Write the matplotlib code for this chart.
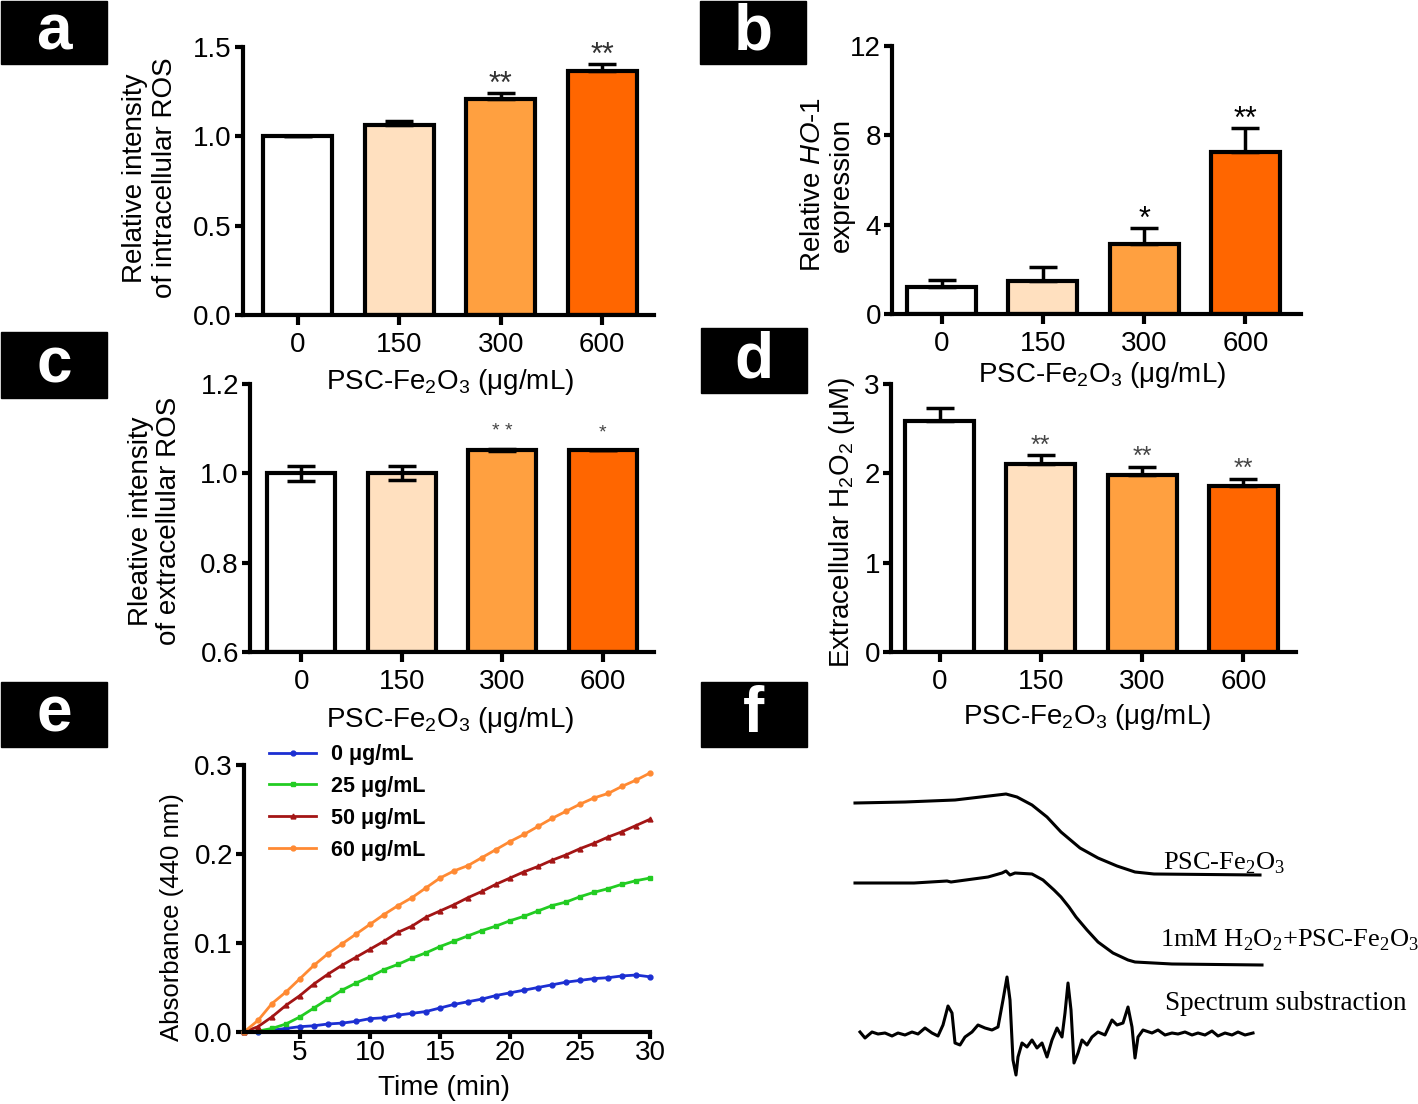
import numpy as np
import matplotlib
matplotlib.use("Agg")
from matplotlib import pyplot as plt
from matplotlib.patches import Rectangle

plt.rcParams['font.family'] = ['Liberation Sans', 'DejaVu Sans']
plt.rcParams['mathtext.fontset'] = 'custom'
plt.rcParams['mathtext.rm'] = 'Liberation Sans'
plt.rcParams['mathtext.it'] = 'Liberation Sans:italic'

W, H = 1418, 1104

# ---- data ----
doses = ['0', '150', '300', '600']
bar_colors = ['#FFFFFF', '#FFE0BF', '#FFA040', '#FF6600']

ros_in = [1.0, 1.066, 1.207, 1.366]
ros_in_err = [0.0, 0.02, 0.037, 0.04]
ros_in_sig = ['', '', '**', '**']

ho1 = [1.2, 1.48, 3.13, 7.26]
ho1_err = [0.32, 0.62, 0.72, 1.07]
ho1_sig = ['', '', '*', '**']

ros_ex = [1.0, 1.0, 1.052, 1.052]
ros_ex_err = [0.017, 0.016, 0.003, 0.0]
ros_ex_sig = ['', '', '* *', '*']

h2o2 = [2.59, 2.11, 1.98, 1.86]
h2o2_err = [0.145, 0.09, 0.09, 0.08]
h2o2_sig = ['', '**', '**', '**']

time_min = list(range(1, 31))
abs_0 = [0.0, 0.0, 0.002, 0.004, 0.006, 0.007, 0.009, 0.010, 0.012, 0.015,
         0.016, 0.019, 0.021, 0.023, 0.027, 0.031, 0.034, 0.037, 0.041, 0.044,
         0.047, 0.050, 0.053, 0.056, 0.058, 0.060, 0.061, 0.063, 0.064, 0.062]
abs_25 = [0.0, 0.001, 0.004, 0.009, 0.017, 0.027, 0.037, 0.047, 0.055, 0.062,
          0.070, 0.076, 0.083, 0.089, 0.096, 0.102, 0.108, 0.114, 0.119, 0.125,
          0.130, 0.136, 0.142, 0.146, 0.152, 0.157, 0.161, 0.166, 0.170, 0.173]
abs_50 = [0.0, 0.006, 0.017, 0.030, 0.041, 0.054, 0.065, 0.075, 0.084, 0.093,
          0.102, 0.112, 0.119, 0.129, 0.136, 0.143, 0.151, 0.158, 0.166, 0.173,
          0.180, 0.186, 0.193, 0.199, 0.206, 0.212, 0.219, 0.225, 0.232, 0.239]
abs_60 = [0.0, 0.013, 0.032, 0.045, 0.060, 0.075, 0.088, 0.099, 0.110, 0.121,
          0.132, 0.142, 0.151, 0.162, 0.173, 0.181, 0.187, 0.196, 0.205, 0.214,
          0.222, 0.231, 0.240, 0.248, 0.256, 0.263, 0.268, 0.276, 0.283, 0.291]
conc_labels = ['0 μg/mL', '25 μg/mL', '50 μg/mL', '60 μg/mL']
conc_colors = ['#1C2FD2', '#22CC22', '#A31515', '#FF8A33']
conc_markers = ['o', 's', '^', 'o']

# EPR spectra (arbitrary field / intensity units)
epr_field_1 = [0, 50, 100, 151, 162, 177, 192, 206, 225, 243, 262, 280, 299, 405]
epr_sig_1 = [287, 288, 290, 296, 293, 285, 273, 258, 242, 232, 224, 218, 216, 215]
epr_field_2 = [0, 59, 92, 96, 133, 147, 151, 155, 160, 177, 188, 199, 206, 214,
               221, 232, 243, 258, 273, 280, 317, 407]
epr_sig_2 = [207, 207, 209, 208, 213, 217, 219, 215, 217, 216, 210, 200, 193, 183,
             173, 160, 148, 137, 130, 128, 126, 125]
epr_field_3 = [5, 10, 17, 23, 30, 37, 43, 50, 57, 63, 70, 77, 83, 88, 93, 97, 100,
               105, 110, 117, 123, 130, 137, 143, 148, 152, 155, 158, 161, 163, 167,
               172, 177, 182, 187, 192, 197, 202, 207, 210, 213, 216, 219, 223, 227,
               232, 237, 243, 250, 257, 262, 268, 273, 277, 280, 283, 288, 297, 303,
               310, 317, 323, 330, 337, 343, 350, 357, 363, 370, 377, 383, 390, 398]
epr_sig_3 = [58, 52, 58, 56, 57, 54, 57, 55, 58, 56, 62, 57, 54, 65, 84, 77, 47,
             45, 53, 58, 65, 62, 60, 63, 90, 113, 90, 30, 15, 33, 47,
             43, 50, 42, 47, 33, 50, 62, 53, 77, 107, 80, 27, 37, 50,
             45, 53, 58, 55, 70, 65, 67, 83, 63, 32, 53, 60, 57, 60,
             55, 57, 56, 58, 55, 57, 55, 59, 54, 57, 55, 58, 55, 57]

fig = plt.figure(figsize=(W / 100, H / 100), dpi=100)

TICK_FS = 20
LAB_FS = 20


def px_axes(l, t, r, b):
    return fig.add_axes([l / W, 1 - b / H, (r - l) / W, (b - t) / H])


def panel_letter(letter, l, t, r, b):
    fig.patches.append(Rectangle((l / W, 1 - b / H), (r - l) / W, (b - t) / H,
                                 transform=fig.transFigure, color='black'))
    fig.text((l + r) / 2 / W, 1 - (t + b) / 2 / H, letter, color='white',
             fontsize=46, fontweight='bold', ha='center', va='center')


def style_axes(ax):
    for s in ['top', 'right']:
        ax.spines[s].set_visible(False)
    for s in ['left', 'bottom']:
        ax.spines[s].set_linewidth(3)
    ax.tick_params(axis='y', length=6, width=3, labelsize=TICK_FS, pad=2)
    ax.tick_params(axis='x', length=7, width=3, labelsize=TICK_FS, pad=5)


def bar_panel(ax, vals, errs, sig, ylim, yticks, ylabels, xlim, sym,
              star_size, star_color, star_off):
    x = np.arange(len(vals))
    ax.bar(x, np.array(vals) - ylim[0], bottom=ylim[0], width=0.68,
           color=bar_colors, edgecolor='black', linewidth=3, zorder=2)
    lower = errs if sym else [0] * len(errs)
    ax.errorbar(x, vals, yerr=[lower, errs], fmt='none', ecolor='black',
                elinewidth=2.5, capsize=10, capthick=2.5, zorder=3)
    for xi, v, e, s in zip(x, vals, errs, sig):
        if s:
            ax.annotate(s, (xi, v + e), xytext=(0, star_off),
                        textcoords='offset points', ha='center', va='baseline',
                        fontsize=star_size, color=star_color)
    ax.set_xlim(*xlim)
    ax.set_ylim(*ylim)
    ax.set_xticks(x, doses)
    ax.set_yticks(yticks, ylabels)
    style_axes(ax)


xlab = 'PSC-Fe$_\\mathregular{2}$O$_\\mathregular{3}$ (μg/mL)'

# a
ax_a = px_axes(243, 47, 654, 315)
bar_panel(ax_a, ros_in, ros_in_err, ros_in_sig, (0, 1.5), [0, 0.5, 1.0, 1.5],
          ['0.0', '0.5', '1.0', '1.5'], (-0.54, 3.51), False, 22, '#333333', 0)
fig.text(150 / W, 1 - 178 / H, 'Relative intensity\nof intracellular ROS',
         rotation=90, ha='center', va='center', fontsize=LAB_FS, linespacing=1.15)
fig.text(450 / W, 1 - 382 / H, xlab, ha='center', va='center', fontsize=LAB_FS)

# b
ax_b = px_axes(892, 46, 1301, 314)
bar_panel(ax_b, ho1, ho1_err, ho1_sig, (0, 12), [0, 4, 8, 12],
          ['0', '4', '8', '12'], (-0.49, 3.55), False, 22, 'black', 0)
fig.text(827 / W, 1 - 185 / H, 'Relative $\\it{HO}$-$\\it{1}$\nexpression',
         rotation=90, ha='center', va='center', fontsize=LAB_FS, linespacing=1.15)
fig.text(1102 / W, 1 - 375 / H, xlab, ha='center', va='center', fontsize=LAB_FS)

# c
ax_c = px_axes(250, 384, 654, 652)
bar_panel(ax_c, ros_ex, ros_ex_err, ros_ex_sig, (0.6, 1.2), [0.6, 0.8, 1.0, 1.2],
          ['0.6', '0.8', '1.0', '1.2'], (-0.51, 3.51), True, 14, '#444444', 9)
fig.text(155 / W, 1 - 521 / H, 'Rleative intensity\nof extracellular ROS',
         rotation=90, ha='center', va='center', fontsize=LAB_FS, linespacing=1.15)
fig.text(450 / W, 1 - 720 / H, xlab, ha='center', va='center', fontsize=LAB_FS)

# d
ax_d = px_axes(891, 384, 1296, 652)
bar_panel(ax_d, h2o2, h2o2_err, h2o2_sig, (0, 3), [0, 1, 2, 3],
          ['0', '1', '2', '3'], (-0.48, 3.52), False, 18, '#444444', 2)
fig.text(842 / W, 1 - 522 / H,
         'Extracellular H$_\\mathregular{2}$O$_\\mathregular{2}$ (μM)',
         rotation=90, ha='center', va='center', fontsize=LAB_FS)
fig.text(1087 / W, 1 - 717 / H, xlab, ha='center', va='center', fontsize=LAB_FS)

# e
ax_e = px_axes(244, 765, 650, 1032)
for vals, lab, col, mk in zip([abs_0, abs_25, abs_50, abs_60], conc_labels,
                              conc_colors, conc_markers):
    ax_e.plot(time_min, vals, color=col, marker=mk, markersize=3.5, lw=2,
              label=lab, clip_on=False)
ax_e.set_xlim(1, 30)
ax_e.set_ylim(0, 0.3)
ax_e.set_xticks([5, 10, 15, 20, 25, 30])
ax_e.set_yticks([0, 0.1, 0.2, 0.3], ['0.0', '0.1', '0.2', '0.3'])
style_axes(ax_e)
ax_e.tick_params(axis='x', length=5, pad=1)
ax_e.legend(loc='upper left', bbox_to_anchor=(0.04, 1.11), frameon=False,
            handlelength=2.2, handletextpad=0.7, labelspacing=0.5,
            borderaxespad=0, prop={'size': 15.5, 'weight': 'bold'})
fig.text(172 / W, 1 - 917 / H, 'Absorbance (440 nm)', rotation=90,
         ha='center', va='center', fontsize=18.5)
fig.text(444 / W, 1 - 1088 / H, 'Time (min)', ha='center', va='center',
         fontsize=LAB_FS)

# f
ax_f = px_axes(845, 760, 1418, 1090)
ax_f.plot(epr_field_1, epr_sig_1, color='black', lw=2.2)
ax_f.plot(epr_field_2, epr_sig_2, color='black', lw=2.2)
ax_f.plot(epr_field_3, epr_sig_3, color='black', lw=2.2)
ax_f.set_xlim(-10, 563)
ax_f.set_ylim(0, 330)
ax_f.axis('off')
serif = ['Liberation Serif', 'DejaVu Serif']
ax_f.text(308, 227, 'PSC-Fe$_\\mathregular{2}$O$_\\mathregular{3}$', family=serif,
          fontsize=19, ha='left', va='center')
ax_f.text(305, 150, '1mM H$_\\mathregular{2}$O$_\\mathregular{2}$+PSC-Fe$_\\mathregular{2}$O$_\\mathregular{3}$',
          family=serif, fontsize=19, ha='left', va='center')
ax_f.text(310, 87, 'Spectrum substraction', family=serif, fontsize=19.5,
          ha='left', va='center')

panel_letter('a', 1, 1, 107, 64)
panel_letter('b', 700, 1, 806, 64)
panel_letter('c', 1, 332, 107, 398)
panel_letter('d', 701, 328, 807, 393)
panel_letter('e', 1, 682, 107, 747)
panel_letter('f', 701, 682, 807, 747)

fig.savefig('out.png', dpi=100)
